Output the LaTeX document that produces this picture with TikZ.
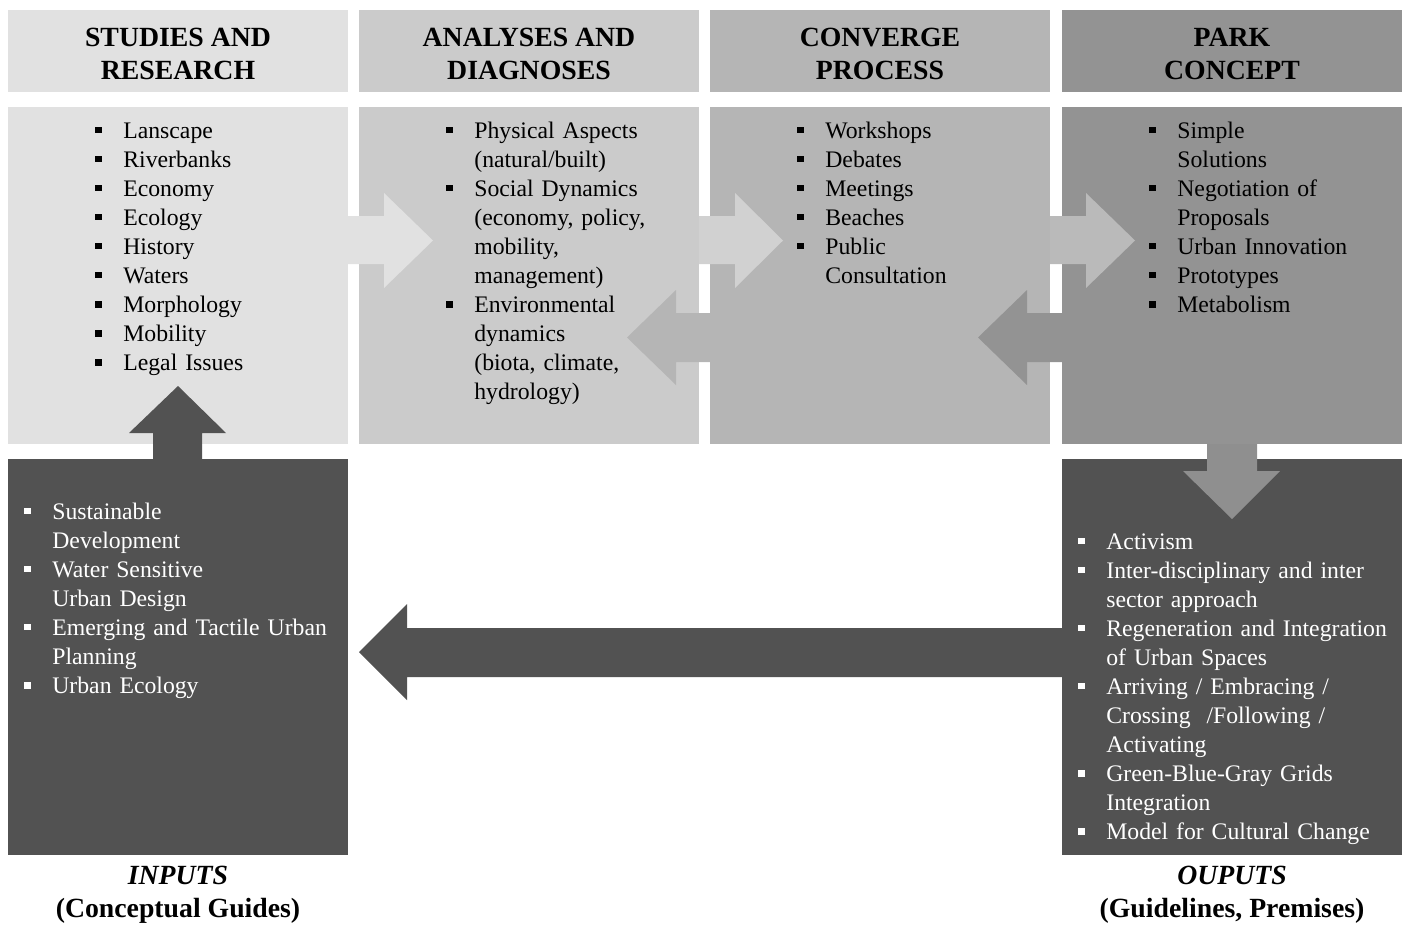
\documentclass[tikz,border=0pt]{standalone}
\usepackage{fontspec}
\setmainfont{Liberation Serif}
\usepackage{xcolor}

\definecolor{stagea}{HTML}{E1E1E1}
\definecolor{stageb}{HTML}{CBCBCB}
\definecolor{stagec}{HTML}{B5B5B5}
\definecolor{staged}{HTML}{939393}
\definecolor{darkbox}{HTML}{525252}

% square bullet hanging left of the item text
\newcommand{\bul}{\leavevmode\llap{\rule[0.1cm]{0.14cm}{0.13cm}\hspace{0.42cm}}}
% pushes header text a little down
\newcommand{\hstrut}{\rule{0pt}{0.49cm}}

\begin{document}
\begin{tikzpicture}[x=0.02cm,y=-0.02cm,
  hdr/.style={minimum width=6.8cm,minimum height=1.64cm,inner sep=0pt,align=center,
    font=\fontsize{15.8pt}{18.8pt}\selectfont\bfseries},
  stagebox/.style={minimum width=6.8cm,minimum height=6.74cm,inner sep=0pt},
  outbox/.style={minimum width=6.8cm,minimum height=7.92cm,inner sep=0pt,fill=darkbox},
  items/.style={anchor=base west,inner sep=0pt,text width=6cm,align=left,
    font=\fontsize{13.5pt}{16.56pt}\selectfont},
  foot/.style={inner sep=0pt,align=center,font=\fontsize{15.8pt}{18.8pt}\selectfont\bfseries}]
  \useasboundingbox (0,0) rectangle (1407,924);

  % Stage headers
  \node[hdr,fill=stagea] (studies) at (178,51) {\hstrut STUDIES AND\\RESEARCH};
  \node[hdr,fill=stageb] (analyses) at (529,51) {\hstrut ANALYSES AND\\DIAGNOSES};
  \node[hdr,fill=stagec] (converge) at (880,51) {\hstrut CONVERGE\\PROCESS};
  \node[hdr,fill=staged] (park) at (1232,51) {\hstrut PARK\\CONCEPT};

  % Stage bodies
  \node[stagebox,fill=stagea] (studiesbox) at (178,275.5) {};
  \node[stagebox,fill=stageb] (analysesbox) at (529,275.5) {};
  \node[stagebox,fill=stagec] (convergebox) at (880,275.5) {};
  \node[stagebox,fill=staged] (parkbox) at (1232,275.5) {};

  % Inputs and outputs
  \node[outbox] (inbox) at (178,657) {};
  \node[outbox] (outbox) at (1232,657) {};

  % Forward arrows
  \fill[stagea] (330,216) -- (384,216) -- (384,193) -- (433,240.5) -- (384,288) -- (384,264) -- (330,264) -- cycle;
  \fill[black!18] (699,216) -- (735,216) -- (735,193) -- (783,240.5) -- (735,288) -- (735,264) -- (699,264) -- cycle;
  \fill[black!27] (1050,216) -- (1086,216) -- (1086,193) -- (1135,240.5) -- (1086,288) -- (1086,264) -- (1050,264) -- cycle;

  % Feedback arrows
  \fill[stagec] (725,313) -- (676,313) -- (676,290) -- (627,337.5) -- (676,385) -- (676,362) -- (725,362) -- cycle;
  \fill[staged] (1075,313) -- (1027,313) -- (1027,290) -- (978,337.5) -- (1027,385) -- (1027,362) -- (1075,362) -- cycle;

  % Up, down and return arrows
  \fill[darkbox] (153,465) -- (153,433) -- (129,433) -- (178,386) -- (226,433) -- (202,433) -- (202,465) -- cycle;
  \fill[black!44] (1207,444) -- (1207,471) -- (1183,471) -- (1232,519) -- (1280,471) -- (1257,471) -- (1257,444) -- cycle;
  \fill[darkbox] (1070,628) -- (407,628) -- (407,604) -- (359,652) -- (407,700) -- (407,677) -- (1070,677) -- cycle;

  % Item lists
  \node[items] (studieslist) at (123,138) {\bul Lanscape\\ \bul Riverbanks\\ \bul Economy\\ \bul Ecology\\
    \bul History\\ \bul Waters\\ \bul Morphology\\ \bul Mobility\\ \bul Legal Issues};
  \node[items] (analyseslist) at (474,138) {\bul Physical Aspects\\ (natural/built)\\ \bul Social Dynamics\\
    (economy, policy,\\ mobility,\\ management)\\ \bul Environmental\\ dynamics\\ (biota, climate,\\ hydrology)};
  \node[items] (convergelist) at (825,138) {\bul Workshops\\ \bul Debates\\ \bul Meetings\\ \bul Beaches\\
    \bul Public\\ Consultation};
  \node[items] (parklist) at (1177,138) {\bul Simple\\ Solutions\\ \bul Negotiation of\\ Proposals\\
    \bul Urban Innovation\\ \bul Prototypes\\ \bul Metabolism};
  \node[items,text=white] (inlist) at (52,519) {\bul Sustainable\\ Development\\ \bul Water Sensitive\\
    Urban Design\\ \bul Emerging and Tactile Urban\\ Planning\\ \bul Urban Ecology};
  \node[items,text=white] (outlist) at (1106,549) {\bul Activism\\ \bul Inter-disciplinary and inter\\
    sector approach\\ \bul Regeneration and Integration\\ of Urban Spaces\\ \bul Arriving / Embracing /\\
    Crossing~ /Following /\\ Activating\\ \bul Green-Blue-Gray Grids\\ Integration\\ \bul Model for Cultural Change};

  % Captions
  \node[foot] (inputs) at (178,895) {\textit{INPUTS}\\(Conceptual Guides)};
  \node[foot] (outputs) at (1232,895) {\textit{OUPUTS}\\(Guidelines, Premises)};
\end{tikzpicture}
\end{document}
